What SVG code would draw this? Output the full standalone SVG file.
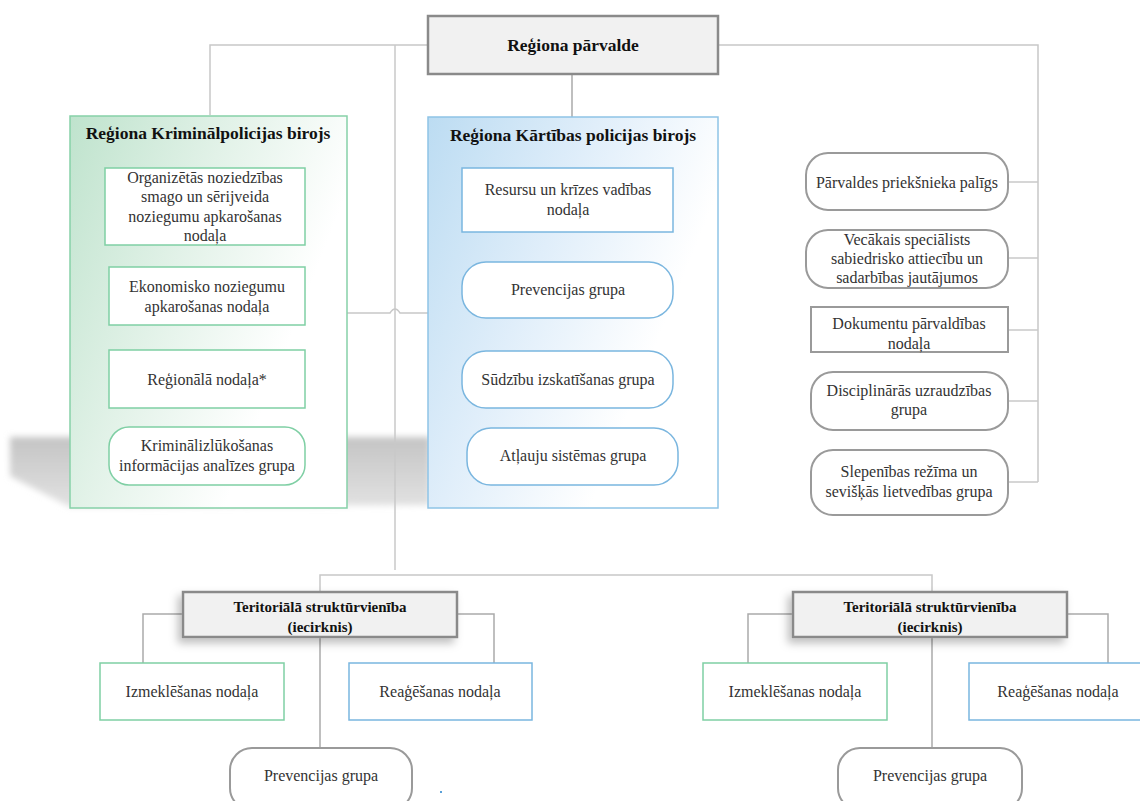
<svg xmlns="http://www.w3.org/2000/svg" width="1140" height="801" viewBox="0 0 1140 801">
<defs>
<linearGradient id="gGreen" x1="0" y1="0" x2="1" y2="0.55">
<stop offset="0" stop-color="#bfe3cd"/>
<stop offset="0.45" stop-color="#e2f2e8"/>
<stop offset="0.85" stop-color="#ffffff"/>
</linearGradient>
<linearGradient id="gBlue" x1="0" y1="0" x2="1" y2="0.55">
<stop offset="0" stop-color="#bcdcf2"/>
<stop offset="0.45" stop-color="#e0eefa"/>
<stop offset="0.85" stop-color="#ffffff"/>
</linearGradient>
<linearGradient id="gShadow" x1="0" y1="0" x2="0" y2="1">
<stop offset="0" stop-color="#c4c4c4"/>
<stop offset="1" stop-color="#e2e2e2"/>
</linearGradient>
<filter id="blur" x="-10%" y="-30%" width="120%" height="160%">
<feGaussianBlur stdDeviation="3"/>
</filter>
<filter id="ds" x="-10%" y="-30%" width="120%" height="180%">
<feDropShadow dx="-4" dy="5" stdDeviation="4" flood-color="#000" flood-opacity="0.25"/>
</filter>
<style>
.t{font-family:"Liberation Serif","Times New Roman",serif;font-size:16px;fill:#333;text-anchor:middle}
.b{font-family:"Liberation Serif","Times New Roman",serif;font-size:17.5px;font-weight:bold;fill:#111;text-anchor:middle}
.s{font-size:15px}
.c{fill:none;stroke:#c8c8c8;stroke-width:1.5}
.cd{fill:none;stroke:#aaaaaa;stroke-width:1.5}
.gn{fill:#fff;stroke:#7fcfa4;stroke-width:1.5}
.bl{fill:#fff;stroke:#7ab6df;stroke-width:1.5}
.gr{fill:#fff;stroke:#9a9a9a;stroke-width:2}
.hd{fill:#f1f1f1;stroke:#8a8a8a;stroke-width:2.5}
</style>
</defs>

<polygon points="10,437 430,437 430,505 70,507 10,476" fill="url(#gShadow)" filter="url(#blur)"/>

<g id="connectors">
<path class="c" d="M210,115 V45 H428"/>
<path class="c" d="M395,45 V570"/>
<path class="c" d="M718,45 H1038 V482"/>
<path class="cd" d="M572,74 V117"/>
<path class="c" d="M347,313 H390 Q395,305 400,313 H428"/>
<path class="c" d="M1008,182 H1038"/>
<path class="c" d="M1008,258 H1038"/>
<path class="c" d="M1008,330 H1038"/>
<path class="c" d="M1008,401 H1038"/>
<path class="c" d="M1008,482 H1038"/>
<path class="c" d="M320,592 V575 H932 V592"/>
<path class="cd" d="M183,614 H143 V663"/>
<path class="cd" d="M457,614 H494 V663"/>
<path class="cd" d="M320,637 V748"/>
<path class="cd" d="M793,614 H748 V663"/>
<path class="cd" d="M1067,614 H1108 V663"/>
<path class="cd" d="M932,637 V748"/>
</g>

<g id="top">
<rect class="hd" x="428" y="16" width="290" height="58"/>
<text class="b" x="573" y="51">Reģiona pārvalde</text>
</g>

<g id="kriminal">
<rect x="70" y="116" width="277" height="392" fill="url(#gGreen)" stroke="#86d1a8" stroke-width="1.5"/>
<text class="b" x="208" y="139">Reģiona Kriminālpolicijas birojs</text>
</g>
<g id="k1">
<rect class="gn" x="105" y="168" width="200" height="77"/>
<text class="t" x="205" y="183">Organizētās noziedzības</text>
<text class="t" x="205" y="202">smago un sērijveida</text>
<text class="t" x="205" y="222">noziegumu apkarošanas</text>
<text class="t" x="205" y="241">nodaļa</text>
</g>
<g id="k2">
<rect class="gn" x="109" y="267" width="196" height="58"/>
<text class="t" x="207" y="292">Ekonomisko noziegumu</text>
<text class="t" x="207" y="312">apkarošanas nodaļa</text>
</g>
<g id="k3">
<rect class="gn" x="109" y="350" width="196" height="58"/>
<text class="t" x="207" y="385">Reģionālā nodaļa*</text>
</g>
<g id="k4">
<rect class="gn" x="109" y="427" width="196" height="58" rx="20"/>
<text class="t" x="207" y="451">Kriminālizlūkošanas</text>
<text class="t" x="207" y="471">informācijas analīzes grupa</text>
</g>

<g id="kartiba">
<rect x="428" y="117" width="290" height="391" fill="url(#gBlue)" stroke="#8ec4e6" stroke-width="1.5"/>
<text class="b" x="573" y="141">Reģiona Kārtības policijas birojs</text>
</g>
<g id="p1">
<rect class="bl" x="462" y="168" width="211" height="64"/>
<text class="t" x="568" y="195">Resursu un krīzes vadības</text>
<text class="t" x="568" y="215">nodaļa</text>
</g>
<g id="p2">
<rect class="bl" x="462" y="262" width="211" height="56" rx="24"/>
<text class="t" x="568" y="295">Prevencijas grupa</text>
</g>
<g id="p3">
<rect class="bl" x="462" y="351" width="211" height="57" rx="24"/>
<text class="t" x="568" y="385">Sūdzību izskatīšanas grupa</text>
</g>
<g id="p4">
<rect class="bl" x="467" y="428" width="211" height="57" rx="24"/>
<text class="t" x="573" y="461">Atļauju sistēmas grupa</text>
</g>

<g id="r1">
<rect class="gr" x="806" y="153" width="202" height="57" rx="22"/>
<text class="t" x="907" y="188">Pārvaldes priekšnieka palīgs</text>
</g>
<g id="r2">
<rect class="gr" x="806" y="230" width="202" height="58" rx="22"/>
<text class="t" x="907" y="245">Vecākais speciālists</text>
<text class="t" x="907" y="264">sabiedrisko attiecību un</text>
<text class="t" x="907" y="283">sadarbības jautājumos</text>
</g>
<g id="r3">
<rect class="gr" x="811" y="307" width="197" height="45"/>
<text class="t" x="909" y="329">Dokumentu pārvaldības</text>
<text class="t" x="909" y="349">nodaļa</text>
</g>
<g id="r4">
<rect class="gr" x="811" y="372" width="197" height="58" rx="22"/>
<text class="t" x="909" y="396">Disciplinārās uzraudzības</text>
<text class="t" x="909" y="415">grupa</text>
</g>
<g id="r5">
<rect class="gr" x="811" y="450" width="197" height="65" rx="22"/>
<text class="t" x="909" y="477">Slepenības režīma un</text>
<text class="t" x="909" y="497">sevišķās lietvedības grupa</text>
</g>

<g id="ter1">
<rect class="hd" x="183" y="592" width="274" height="45" stroke-width="2" filter="url(#ds)"/>
<text class="b s" x="320" y="612">Teritoriālā struktūrvienība</text>
<text class="b s" x="320" y="632">(iecirknis)</text>
</g>
<g id="izm1">
<rect class="gn" x="100" y="663" width="184" height="57"/>
<text class="t" x="192" y="697">Izmeklēšanas nodaļa</text>
</g>
<g id="rea1">
<rect class="bl" x="349" y="663" width="183" height="57"/>
<text class="t" x="440" y="697">Reaģēšanas nodaļa</text>
</g>
<g id="prev1">
<rect class="gr" x="230" y="748" width="182" height="62" rx="22"/>
<text class="t" x="321" y="781">Prevencijas grupa</text>
</g>

<g id="ter2">
<rect class="hd" x="793" y="592" width="274" height="45" stroke-width="2" filter="url(#ds)"/>
<text class="b s" x="930" y="612">Teritoriālā struktūrvienība</text>
<text class="b s" x="930" y="632">(iecirknis)</text>
</g>
<g id="izm2">
<rect class="gn" x="703" y="663" width="184" height="57"/>
<text class="t" x="795" y="697">Izmeklēšanas nodaļa</text>
</g>
<g id="rea2">
<rect class="bl" x="969" y="663" width="185" height="57"/>
<text class="t" x="1058" y="697">Reaģēšanas nodaļa</text>
</g>
<g id="prev2">
<rect class="gr" x="838" y="748" width="184" height="62" rx="22"/>
<text class="t" x="930" y="781">Prevencijas grupa</text>
</g>
<rect x="440" y="791" width="2" height="2" fill="#5aa0d8"/>
</svg>
